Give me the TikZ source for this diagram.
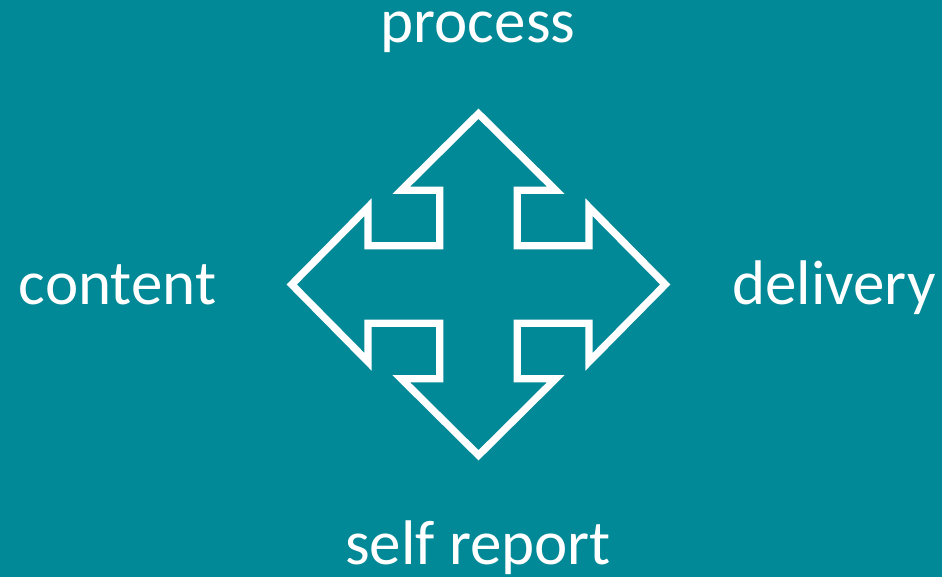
\documentclass[tikz,border=0pt]{standalone}
\usepackage{fontspec}
\setmainfont{Carlito}
\usepackage{tikz}
\definecolor{bgteal}{RGB}{2,137,151}

\begin{document}
\begin{tikzpicture}[x=1pt, y=1pt, every node/.style={text=white, inner sep=0pt, font=\fontsize{63}{65}\selectfont}]
		\fill[bgteal] (0,0) rectangle (942,577);
		\useasboundingbox (0,0) rectangle (942,577);
		% arrow sizes: shaft, head, base and tip distances
		\def\sh{38.7} \def\hd{77.3} \def\bv{94.2} \def\tv{170.8} \def\bh{110.5} \def\th{186.8}
		\coordinate (mid) at (478.5,292.5);
		\draw[white, line width=7.3pt, shift={(mid)}] (0,\tv) -- (\hd,\bv) -- (\sh,\bv) -- (\sh,\sh) -- (\bh,\sh) -- (\bh,\hd) -- (\th,0) -- (\bh,-\hd) -- (\bh,-\sh) -- (\sh,-\sh) -- (\sh,-\bv) -- (\hd,-\bv) -- (0,-\tv) -- (-\hd,-\bv) -- (-\sh,-\bv) -- (-\sh,-\sh) -- (-\bh,-\sh) -- (-\bh,-\hd) -- (-\th,0) -- (-\bh,\hd) -- (-\bh,\sh) -- (-\sh,\sh) -- (-\sh,\bv) -- (-\hd,\bv) -- cycle;
		\node[anchor=base] (process) at (478,534) {process};
		\node[anchor=base] (content) at (117.5,272) {content};
		\node[anchor=base] (delivery) at (834,272) {delivery};
		\node[anchor=base] (selfreport) at (478,12) {self report};
    \end{tikzpicture}
\end{document}
